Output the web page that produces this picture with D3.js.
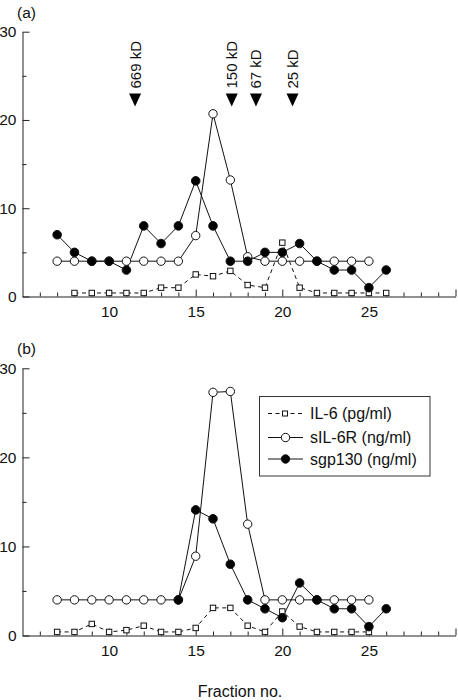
<!DOCTYPE html>
<html><head><meta charset="utf-8">
<script src="https://cdn.jsdelivr.net/npm/d3@7"></script>
<style>body{margin:0;background:#fff}svg{display:block}text{font-family:"Liberation Sans",Arial,sans-serif;fill:#111}</style>
</head><body><svg id="c" width="458" height="700"></svg>
<script>
// ---- data ----
const fracA_il6 = [8,9,10,11,12,13,14,15,16,17,18,19,20,21,22,23,24,25,26];
const il6A      = [0.4,0.4,0.4,0.4,0.4,1.0,1.0,2.5,2.3,2.9,1.3,1.0,6.1,1.0,0.4,0.4,0.4,0.4,0.4];
const fracA_sil = [7,8,9,10,11,12,13,14,15,16,17,18,19,20,21,22,23,24,25];
const sil6rA    = [4,4,4,4,4,4,4,4,6.9,20.7,13.2,4.5,4,4,4,4,4,4,4];
const fracA_sgp = [7,8,9,10,11,12,13,14,15,16,17,18,19,20,21,22,23,24,25,26];
const sgpA      = [7,5,4,4,3,8,6,8,13.1,8,4,4,5,5,6,4,3,3,1,3];

const fracB_il6 = [7,8,9,10,11,12,13,14,15,16,17,18,19,20,21,22,23,24,25];
const il6B      = [0.4,0.4,1.3,0.4,0.6,1.1,0.4,0.4,0.85,3.1,3.1,1.1,0.4,2.7,1.0,0.4,0.4,0.4,0.4];
const fracB_sil = [7,8,9,10,11,12,13,14,15,16,17,18,19,20,21,22,23,24,25];
const sil6rB    = [4,4,4,4,4,4,4,4,8.9,27.3,27.4,12.5,4,4,4,4,4,4,4];
const fracB_sgp = [14,15,16,17,18,19,20,21,22,23,24,25,26];
const sgpB      = [4,14.1,13.1,8,4,3,2,5.9,4,3,3,1,3];

const markerLabels = ["669 kD","150 kD","67 kD","25 kD"];
const markerFrac   = [11.5,17.08,18.48,20.59];

const seriesNames = ["IL-6 (pg/ml)","sIL-6R (ng/ml)","sgp130 (ng/ml)"];
const xMajor = [10,15,20,25];
const yMajor = [0,10,20,30];

// ---- drawing ----
const svg = d3.select("#c");
const x = d3.scaleLinear().domain([5,30]).range([22.5,455.5]);
const xMinor = d3.range(6,31).filter(v => v%5!==0);
const yMinor = [5,15,25];

function panel(top, bottom, label, sets, showMarkers){
  const y = d3.scaleLinear().domain([0,30]).range([bottom, top]);
  const g = svg.append("g");
  // axes
  g.append("g").attr("transform",`translate(${x(5)},0)`)
    .call(d3.axisLeft(y).tickValues(yMajor).tickSizeInner(-7).tickSizeOuter(0).tickPadding(6))
    .call(s=>{s.selectAll("text").attr("font-size",15.5).attr("font-family","Liberation Sans, Arial, sans-serif").attr("fill","#111");
              s.selectAll("line,path").attr("stroke","#222");});
  g.append("g").attr("transform",`translate(${x(5)},0)`)
    .call(d3.axisLeft(y).tickValues(yMinor).tickSizeInner(-4).tickSizeOuter(0).tickFormat(""))
    .call(s=>{s.select("path").remove(); s.selectAll("line").attr("stroke","#222");});
  g.append("g").attr("transform",`translate(0,${bottom})`)
    .call(d3.axisBottom(x).tickValues(xMajor.concat([30])).tickSizeInner(-7).tickSizeOuter(0).tickPadding(5)
          .tickFormat(d => d===30 ? "" : d))
    .call(s=>{s.selectAll("text").attr("font-size",15.5).attr("font-family","Liberation Sans, Arial, sans-serif").attr("fill","#111").attr("dy","1.0em");
              s.selectAll("line,path").attr("stroke","#222");});
  g.append("g").attr("transform",`translate(0,${bottom})`)
    .call(d3.axisBottom(x).tickValues(xMinor).tickSizeInner(-4).tickSizeOuter(0).tickFormat(""))
    .call(s=>{s.select("path").remove(); s.selectAll("line").attr("stroke","#222");});

  g.append("text").attr("x",17).attr("y",top-14).attr("font-size",15.5).text(label);

  const line = d3.line().x(d=>x(d[0])).y(d=>y(d[1]));
  sets.forEach((st,i)=>{
    const pts = st.f.map((f,j)=>[f, st.v[j]]);
    g.append("path").attr("d",line(pts)).attr("fill","none").attr("stroke","#111")
      .attr("stroke-width",1).attr("stroke-dasharray", i===0 ? "4,3.5" : null);
  });
  sets.forEach((st,i)=>{
    const pts = st.f.map((f,j)=>[f, st.v[j]]);
    if(i===0){
      g.selectAll(null).data(pts).enter().append("rect")
        .attr("x",d=>x(d[0])-2.7).attr("y",d=>y(d[1])-2.7).attr("width",5.4).attr("height",5.4)
        .attr("fill","#fff").attr("stroke","#111").attr("stroke-width",1);
    } else {
      g.selectAll(null).data(pts).enter().append("circle")
        .attr("cx",d=>x(d[0])).attr("cy",d=>y(d[1])).attr("r",i===1?4.2:4.3)
        .attr("fill",i===1?"#fff":"#000").attr("stroke","#111").attr("stroke-width",1);
    }
  });

  if(showMarkers){
    markerFrac.forEach((f,i)=>{
      const cx = x(f);
      g.append("path").attr("d",`M${cx-6},93.5 L${cx+6},93.5 L${cx},106.5 Z`).attr("fill","#000");
      g.append("text").attr("transform",`translate(${cx+5.5},88.5) rotate(-90)`)
        .attr("font-size",15).text(markerLabels[i]);
    });
  }
  return y;
}

panel(31.7, 296.5, "(a)", [{f:fracA_il6,v:il6A},{f:fracA_sil,v:sil6rA},{f:fracA_sgp,v:sgpA}], true);
panel(368.3, 635.5, "(b)", [{f:fracB_il6,v:il6B},{f:fracB_sil,v:sil6rB},{f:fracB_sgp,v:sgpB}], false);

// legend
const lg = svg.append("g");
lg.append("rect").attr("x",259.5).attr("y",396.5).attr("width",170.5).attr("height",79.5)
  .attr("fill","#fff").attr("stroke","#333").attr("stroke-width",1);
const ly = [413.5,437.5,459];
seriesNames.forEach((n,i)=>{
  lg.append("line").attr("x1",268).attr("x2",303).attr("y1",ly[i]).attr("y2",ly[i])
    .attr("stroke","#111").attr("stroke-width",1).attr("stroke-dasharray", i===0 ? "4,3.5" : null);
  if(i===0) lg.append("rect").attr("x",282.5).attr("y",ly[i]-2.5).attr("width",5).attr("height",5)
      .attr("fill","#fff").attr("stroke","#111");
  else lg.append("circle").attr("cx",285.5).attr("cy",ly[i]).attr("r",4.2)
      .attr("fill",i===1?"#fff":"#000").attr("stroke","#111");
  lg.append("text").attr("x",310).attr("y",ly[i]).attr("dy","0.35em").attr("font-size",16).text(n);
});

svg.append("text").attr("x",240).attr("y",697).attr("text-anchor","middle").attr("font-size",16).text("Fraction no.");
</script></body></html>
